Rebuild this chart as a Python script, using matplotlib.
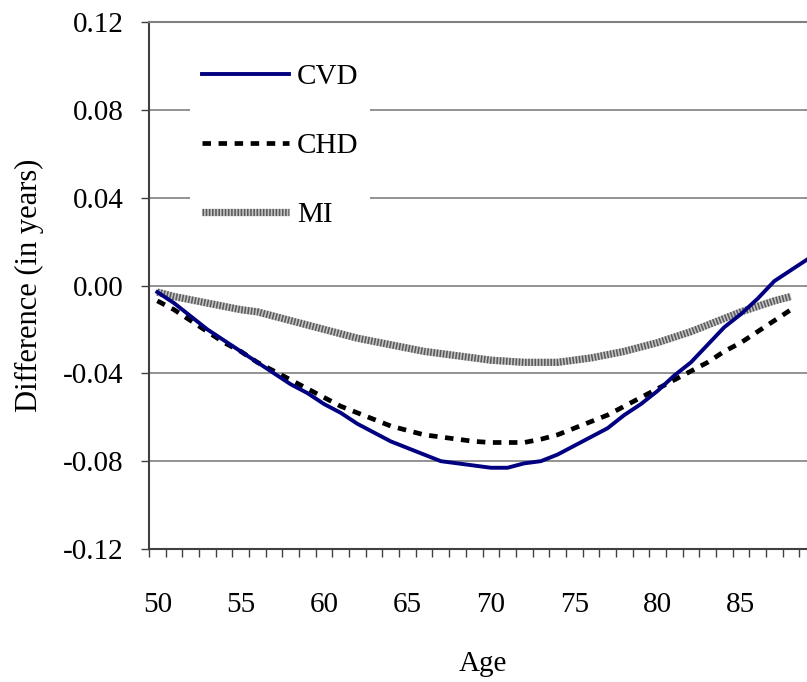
import numpy as np
import matplotlib.pyplot as plt

plt.rcParams['font.family'] = ['Liberation Serif', 'DejaVu Serif']

# ages on the category axis
ages = list(range(50, 90))
tick_ages = [50, 55, 60, 65, 70, 75, 80, 85]

# difference (in years)
cvd = [-0.003, -0.008, -0.014, -0.020, -0.025, -0.030, -0.035, -0.040, -0.045, -0.049,
       -0.054, -0.058, -0.063, -0.067, -0.071, -0.074, -0.077, -0.080, -0.081, -0.082,
       -0.083, -0.083, -0.081, -0.080, -0.077, -0.073, -0.069, -0.065, -0.059, -0.054,
       -0.048, -0.041, -0.035, -0.027, -0.019, -0.013, -0.006, 0.002, 0.007, 0.012]
chd = [-0.007, -0.011, -0.016, -0.021, -0.026, -0.030, -0.035, -0.039, -0.043, -0.047,
       -0.051, -0.055, -0.058, -0.061, -0.064, -0.066, -0.068, -0.069, -0.070, -0.071,
       -0.0715, -0.0715, -0.0715, -0.070, -0.068, -0.065, -0.062, -0.059, -0.055, -0.051,
       -0.047, -0.043, -0.039, -0.035, -0.030, -0.026, -0.021, -0.016, -0.011]
mi = [-0.003, -0.005, -0.0065, -0.008, -0.0095, -0.011, -0.012, -0.014, -0.016, -0.018,
      -0.020, -0.022, -0.024, -0.0255, -0.027, -0.0285, -0.030, -0.031, -0.032, -0.033,
      -0.034, -0.0345, -0.035, -0.035, -0.035, -0.034, -0.033, -0.0315, -0.030, -0.028,
      -0.026, -0.0235, -0.021, -0.018, -0.015, -0.012, -0.0095, -0.007, -0.005]

W, H = 807, 682
fig = plt.figure(figsize=(W / 100, H / 100), dpi=100)
ax = fig.add_axes([149 / W, (H - 549) / H, (816 - 149) / W, (549 - 22) / H])

l_cvd, = ax.plot(ages, cvd, color='#000080', lw=2.8, zorder=4)
l_chd, = ax.plot(ages[:len(chd)], chd, color='black', lw=3.4,
                 linestyle=(0, (1.8, 1.6)), zorder=3)
# MI: thick line with a fine checkered look
mi_x = ages[:len(mi)]
l_mi_base, = ax.plot(mi_x, mi, color='#c4c4c4', lw=5.2, zorder=2, solid_capstyle='butt')
l_mi_top, = ax.plot(mi_x, mi, color='#5a5a5a', lw=5.2, linestyle=(0, (0.22, 0.22)),
                    zorder=2)

ax.set_xlim(49.5, 89.5)
ax.set_ylim(-0.12, 0.12)

# category boundaries as tick marks, labels at category centres
ax.set_xticks(np.arange(49.5, 90, 1))
ax.set_xticklabels([])
ax.set_xticks(tick_ages, minor=True)
ax.set_xticklabels([str(a) for a in tick_ages], minor=True)
ax.tick_params(axis='x', which='major', direction='out', length=6, width=1, color='#404040')
ax.tick_params(axis='x', which='minor', length=0, pad=31, labelsize=21)

yt = np.arange(-0.12, 0.121, 0.04)
ax.set_yticks(yt)
ax.set_yticklabels(['%.2f' % v for v in yt])
ax.tick_params(axis='y', direction='out', length=6, width=1, color='#404040',
               pad=12, labelsize=21)

ax.yaxis.grid(True, color='#808080', lw=1.2)
ax.set_axisbelow(True)
for s in ['left', 'bottom']:
    ax.spines[s].set_color('#404040')
    ax.spines[s].set_linewidth(1.5)
ax.spines['top'].set_color('#808080')
ax.spines['top'].set_linewidth(1.5)
ax.spines['right'].set_visible(False)

ax.set_ylabel('Difference (in years)', fontsize=22, labelpad=14)
ax.set_xlabel('Age', fontsize=21, labelpad=24)

leg = ax.legend([l_cvd, l_chd, (l_mi_base, l_mi_top)], ['CVD', 'CHD', 'MI'],
                loc='upper left', bbox_to_anchor=(0.04, 0.97), fontsize=21,
                frameon=True, fancybox=False, framealpha=1, edgecolor='none',
                facecolor='white', handlelength=3.0, handletextpad=0.25,
                labelspacing=1.45, borderpad=0.4)
leg.set_zorder(5)

fig.savefig('out.png', dpi=100)
